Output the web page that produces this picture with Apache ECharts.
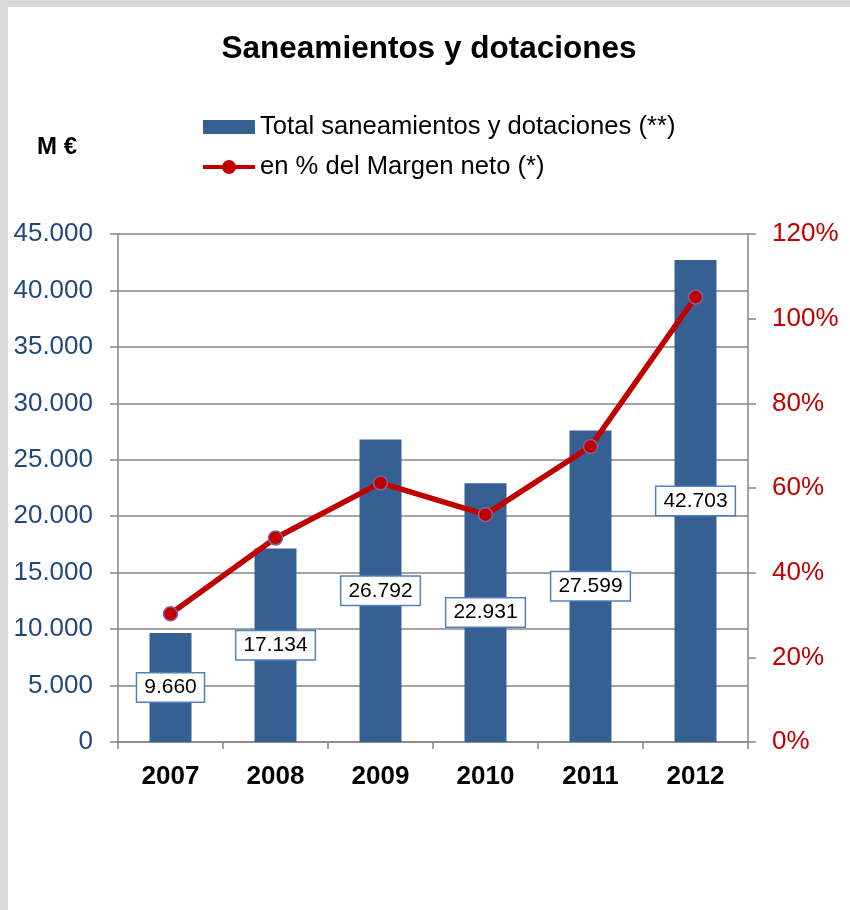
<!DOCTYPE html>
<html>
<head>
<meta charset="utf-8">
<script src="https://cdn.jsdelivr.net/npm/echarts@6/dist/echarts.min.js"></script>
<style>
  html, body { margin: 0; padding: 0; background: #d9d9d9; width: 850px; height: 910px; overflow: hidden; }
  #main { position: absolute; left: 8px; top: 7px; width: 842px; height: 903px; background: #ffffff; }
</style>
</head>
<body>
<div id="main"></div>
<script>
const years = ['2007', '2008', '2009', '2010', '2011', '2012'];
const totalSaneamientos = [9660, 17134, 26792, 22931, 27599, 42703];
const pctMargenNeto = [30.3, 48.2, 61.2, 53.7, 69.8, 105.1];
const leftTicks = { min: 0, max: 45000, interval: 5000 };
const rightTicks = { min: 0, max: 120, interval: 20 };

const FONT = "'Liberation Sans', Arial, sans-serif";
function fmtThousands(v) {
  return String(Math.round(v)).replace(/\B(?=(\d{3})+(?!\d))/g, '.');
}
const lineLegendIcon = 'path://M0,5.5 L52,5.5 L52,9.5 L0,9.5 Z M26,0.5 A7,7 0 1,1 25.99,0.5 Z';

const chart = echarts.init(document.getElementById('main'), null, { renderer: 'canvas' });
chart.setOption({
  animation: false,
  textStyle: { fontFamily: FONT },
  title: [
    { text: 'Saneamientos y dotaciones', left: 'center', top: 21,
      textStyle: { fontFamily: FONT, fontSize: 31.5, fontWeight: 'bold', color: '#000' } },
    { text: 'M €', left: 24, top: 123,
      textStyle: { fontFamily: FONT, fontSize: 24, fontWeight: 'bold', color: '#000' } }
  ],
  legend: {
    orient: 'vertical', left: 195, top: 105, padding: 0,
    itemWidth: 52, itemHeight: 14, itemGap: 10,
    textStyle: { fontFamily: FONT, fontSize: 25.6, color: '#000', lineHeight: 30 },
    data: [
      { name: 'Total saneamientos y dotaciones (**)', icon: 'rect' },
      { name: 'en % del Margen neto (*)', icon: lineLegendIcon,
        itemStyle: { color: '#c00000', borderWidth: 0 } }
    ]
  },
  grid: { left: 110, right: 102, top: 227, bottom: 168 },
  xAxis: {
    type: 'category', data: years, boundaryGap: true,
    axisLine: { lineStyle: { color: '#868686', width: 1.5 } },
    axisTick: { show: true, length: 7, lineStyle: { color: '#868686', width: 1.5 } },
    axisLabel: { margin: 22, fontFamily: FONT, fontSize: 26, fontWeight: 'bold', color: '#000' }
  },
  yAxis: [
    {
      type: 'value', min: leftTicks.min, max: leftTicks.max, interval: leftTicks.interval,
      axisLine: { show: true, lineStyle: { color: '#868686', width: 1.5 } },
      axisTick: { show: true, length: 8, lineStyle: { color: '#868686', width: 1.5 } },
      splitLine: { show: true, lineStyle: { color: '#868686', width: 1.5 } },
      axisLabel: { margin: 25, fontFamily: FONT, fontSize: 26, color: '#1f497d', formatter: fmtThousands }
    },
    {
      type: 'value', position: 'right', min: rightTicks.min, max: rightTicks.max, interval: rightTicks.interval,
      axisLine: { show: true, lineStyle: { color: '#868686', width: 1.5 } },
      axisTick: { show: true, length: 8, lineStyle: { color: '#868686', width: 1.5 } },
      splitLine: { show: false },
      axisLabel: { margin: 24, fontFamily: FONT, fontSize: 26, color: '#c00000', formatter: '{value}%' }
    }
  ],
  series: [
    {
      name: 'Total saneamientos y dotaciones (**)', type: 'bar', data: totalSaneamientos,
      barWidth: '40%', itemStyle: { color: '#376092' },
      label: {
        show: true, position: 'inside', formatter: p => fmtThousands(p.value),
        fontFamily: FONT, fontSize: 21, color: '#000',
        backgroundColor: '#fff', borderColor: '#4f81bd', borderWidth: 1.5, padding: [4, 7, 3, 7]
      },
      z: 2
    },
    {
      name: 'en % del Margen neto (*)', type: 'line', yAxisIndex: 1, data: pctMargenNeto,
      symbol: 'circle', symbolSize: 14,
      lineStyle: { color: '#c00000', width: 5.5 },
      itemStyle: { color: '#c00000', borderColor: '#8064a2', borderWidth: 1.5 },
      z: 3
    }
  ]
});
</script>
</body>
</html>
